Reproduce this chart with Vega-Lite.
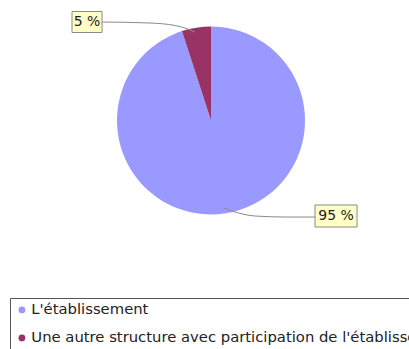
{
  "$schema": "https://vega.github.io/schema/vega-lite/v6.json",
  "width": 409,
  "height": 349,
  "autosize": {"type": "none"},
  "padding": 0,
  "background": "white",
  "config": {"view": {"stroke": null}},
  "datasets": {
    "slices": [
      {"category": "L'établissement", "value": 95, "idx": 1},
      {"category": "Une autre structure avec participation de l'établissement", "value": 5, "idx": 2}
    ],
    "labels": [
      {"label": "5 %", "u": -1.319, "v": 1.048},
      {"label": "95 %", "u": 1.33, "v": -1.016}
    ],
    "leaders": [
      {"line": "a", "i": 1, "u": -1.16, "v": 1.048},
      {"line": "a", "i": 2, "u": -0.649, "v": 1.037},
      {"line": "a", "i": 3, "u": -0.383, "v": 1.011},
      {"line": "a", "i": 4, "u": -0.245, "v": 0.973},
      {"line": "a", "i": 5, "u": -0.17, "v": 0.941},
      {"line": "b", "i": 1, "u": 0.138, "v": -0.931},
      {"line": "b", "i": 2, "u": 0.255, "v": -0.973},
      {"line": "b", "i": 3, "u": 0.468, "v": -1.016},
      {"line": "b", "i": 4, "u": 0.787, "v": -1.027},
      {"line": "b", "i": 5, "u": 1.106, "v": -1.027}
    ]
  },
  "resolve": {"scale": {"x": "shared", "y": "shared"}},
  "layer": [
    {
      "data": {"name": "slices"},
      "mark": {"type": "arc", "outerRadius": 94},
      "encoding": {
        "x": {"datum": 0, "type": "quantitative", "scale": {"domain": [-2.2447, 2.1064], "nice": false, "zero": false}, "axis": null},
        "y": {"datum": 0, "type": "quantitative", "scale": {"domain": [-2.4309, 1.2819], "nice": false, "zero": false}, "axis": null},
        "theta": {"field": "value", "type": "quantitative", "stack": true},
        "order": {"field": "idx", "type": "quantitative"},
        "color": {
          "field": "category",
          "type": "nominal",
          "scale": {
            "domain": ["L'établissement", "Une autre structure avec participation de l'établissement"],
            "range": ["#9999ff", "#993366"]
          },
          "legend": {
            "title": null,
            "orient": "none",
            "legendX": 10,
            "legendY": 298,
            "direction": "vertical",
            "strokeColor": "#555555",
            "fillColor": "white",
            "padding": 4.5,
            "symbolType": "circle",
            "symbolSize": 46,
            "symbolStrokeWidth": 0,
            "labelFont": "DejaVu Sans",
            "labelFontSize": 14.8,
            "labelColor": "#222222",
            "labelLimit": 2000,
            "labelOffset": 2,
            "rowPadding": 12
          }
        }
      }
    },
    {
      "data": {"name": "leaders"},
      "mark": {"type": "line", "interpolate": "monotone", "color": "#8a8a8a", "strokeWidth": 1},
      "encoding": {
        "x": {"field": "u", "type": "quantitative", "axis": null},
        "y": {"field": "v", "type": "quantitative", "axis": null},
        "detail": {"field": "line", "type": "nominal"},
        "order": {"field": "i", "type": "quantitative"}
      }
    },
    {
      "data": {"name": "labels"},
      "mark": {"type": "point", "filled": true, "fill": "#ffffc6", "stroke": "#8a8a8a", "strokeWidth": 1, "opacity": 1},
      "encoding": {
        "x": {"field": "u", "type": "quantitative", "axis": null},
        "y": {"field": "v", "type": "quantitative", "axis": null},
        "shape": {
          "field": "label",
          "type": "nominal",
          "scale": {"domain": ["5 %", "95 %"], "range": ["M-1,-0.7H1V0.7H-1Z", "M-1,-0.524H1V0.524H-1Z"]},
          "legend": null
        },
        "size": {
          "field": "label",
          "type": "nominal",
          "scale": {"domain": ["5 %", "95 %"], "range": [900, 1764]},
          "legend": null
        }
      }
    },
    {
      "data": {"name": "labels"},
      "mark": {"type": "text", "font": "DejaVu Sans", "fontSize": 14, "color": "#222222", "align": "center", "baseline": "middle"},
      "encoding": {
        "x": {"field": "u", "type": "quantitative", "axis": null},
        "y": {"field": "v", "type": "quantitative", "axis": null},
        "text": {"field": "label", "type": "nominal"}
      }
    }
  ]
}
